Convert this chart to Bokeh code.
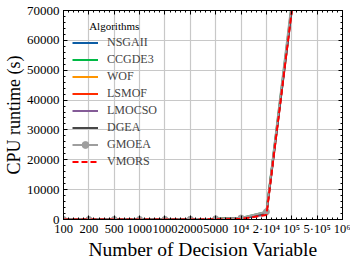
from bokeh.plotting import figure
from bokeh.models import (Range1d, FixedTicker, SingleIntervalTicker, LinearAxis,
                          Legend, Label)
from bokeh.embed import file_html
from bokeh.resources import INLINE

x_labels = ["100", "200", "500", "1000", "1000", "2000", "5000",
            "10⁴", "2·10⁴", "10⁵", "5·10⁵", "10⁶"]

nsgaii = [4, 6, 14, 30, 30, 70, 180, 420, 2300, 71000]
ccgde3 = [5, 8, 18, 36, 36, 85, 210, 480, 2500, 72000]
wof = [3, 5, 12, 25, 25, 60, 150, 360, 1900, 70500]
lsmof = [3, 5, 11, 22, 22, 55, 140, 340, 1800, 70200]
lmocso = [2, 4, 9, 20, 20, 48, 120, 300, 1700, 70000]
dgea = [3, 5, 12, 26, 26, 62, 160, 380, 2100, 70800]
gmoea = [6, 9, 20, 40, 40, 95, 240, 520, 2600, 73000]
vmors = [1, 2, 5, 10, 10, 25, 70, 200, 1500, 70000]

series = [
    ("NSGAII", nsgaii, "#0C5DA5"),
    ("CCGDE3", ccgde3, "#00B945"),
    ("WOF", wof, "#FF9500"),
    ("LSMOF", lsmof, "#FF2C00"),
    ("LMOCSO", lmocso, "#845B97"),
    ("DGEA", dgea, "#474747"),
    ("GMOEA", gmoea, "#9e9e9e"),
]

FONT = "Liberation Serif"

p = figure(frame_width=279, frame_height=209, output_backend="svg",
           toolbar_location=None, x_range=Range1d(0, len(x_labels) - 1),
           y_range=Range1d(0, 70000),
           min_border_left=0, min_border_right=8, min_border_top=10,
           min_border_bottom=0)
p.outline_line_color = "black"
p.outline_line_width = 1

idx = list(range(len(nsgaii)))
items = []
for name, vals, col in series:
    r = p.line(idx, vals, line_color=col, line_width=2)
    rs = [r]
    if name == "GMOEA":
        s = p.scatter(idx, vals, size=6, color=col)
        rs.append(s)
    items.append((name, rs))
rv = p.line(idx, vmors, line_color="#ff0000", line_width=2, line_dash="6 3")
items.append(("VMORS", [rv]))

xticker = FixedTicker(ticks=list(range(len(x_labels))),
                      minor_ticks=[i * 0.2 for i in range(5 * (len(x_labels) - 1) + 1)])
yticker = SingleIntervalTicker(interval=10000, num_minor_ticks=5)

p.xaxis.ticker = xticker
p.xaxis.major_label_overrides = {i: lab for i, lab in enumerate(x_labels)}
p.yaxis.ticker = yticker

for ax in [p.xaxis[0], p.yaxis[0]]:
    ax.major_tick_in = 4
    ax.major_tick_out = 0
    ax.minor_tick_in = 2
    ax.minor_tick_out = 0
    ax.axis_line_color = "black"
    ax.major_tick_line_color = "black"
    ax.minor_tick_line_color = "black"
    ax.major_label_text_font = FONT
    ax.major_label_text_font_size = "12.5px"
    ax.major_label_text_color = "black"
    ax.axis_label_text_font = FONT
    ax.axis_label_text_font_style = "normal"
    ax.axis_label_text_color = "black"

p.yaxis.major_label_text_font_size = "13px"
p.xaxis.axis_label = "Number of Decision Variable"
p.xaxis.axis_label_text_font_size = "19.5px"
p.xaxis.major_label_standoff = 2
p.xaxis.axis_label_standoff = 0
p.yaxis.axis_label = "CPU runtime (s)"
p.yaxis.axis_label_text_font_size = "18px"
p.yaxis.major_label_standoff = 4
p.yaxis.axis_label_standoff = 0

top = LinearAxis(ticker=xticker, major_label_text_color=None,
                 major_label_standoff=0, major_tick_in=4, major_tick_out=0,
                 minor_tick_in=2, minor_tick_out=0)
right = LinearAxis(ticker=yticker, major_label_text_color=None,
                   major_label_standoff=0, major_tick_in=4, major_tick_out=0,
                   minor_tick_in=2, minor_tick_out=0)
p.add_layout(top, "above")
p.add_layout(right, "right")

p.grid.grid_line_color = "#c8c8c8"
p.grid.grid_line_width = 1.2
p.xgrid.ticker = xticker
p.ygrid.ticker = yticker

legend = Legend(items=items, location=(0, 40),
                label_text_font=FONT, label_text_font_size="12px",
                glyph_width=26, glyph_height=17, label_height=17,
                label_standoff=9, spacing=0, padding=9, margin=0,
                background_fill_alpha=0, border_line_alpha=0)
p.add_layout(legend)

p.add_layout(Label(x=2.0, y=64700, text="Algorithms", text_align="center",
                   text_baseline="middle", text_font=FONT,
                   text_font_size="11px", text_color="black"))

open("out.html", "w").write(file_html(p, INLINE))
